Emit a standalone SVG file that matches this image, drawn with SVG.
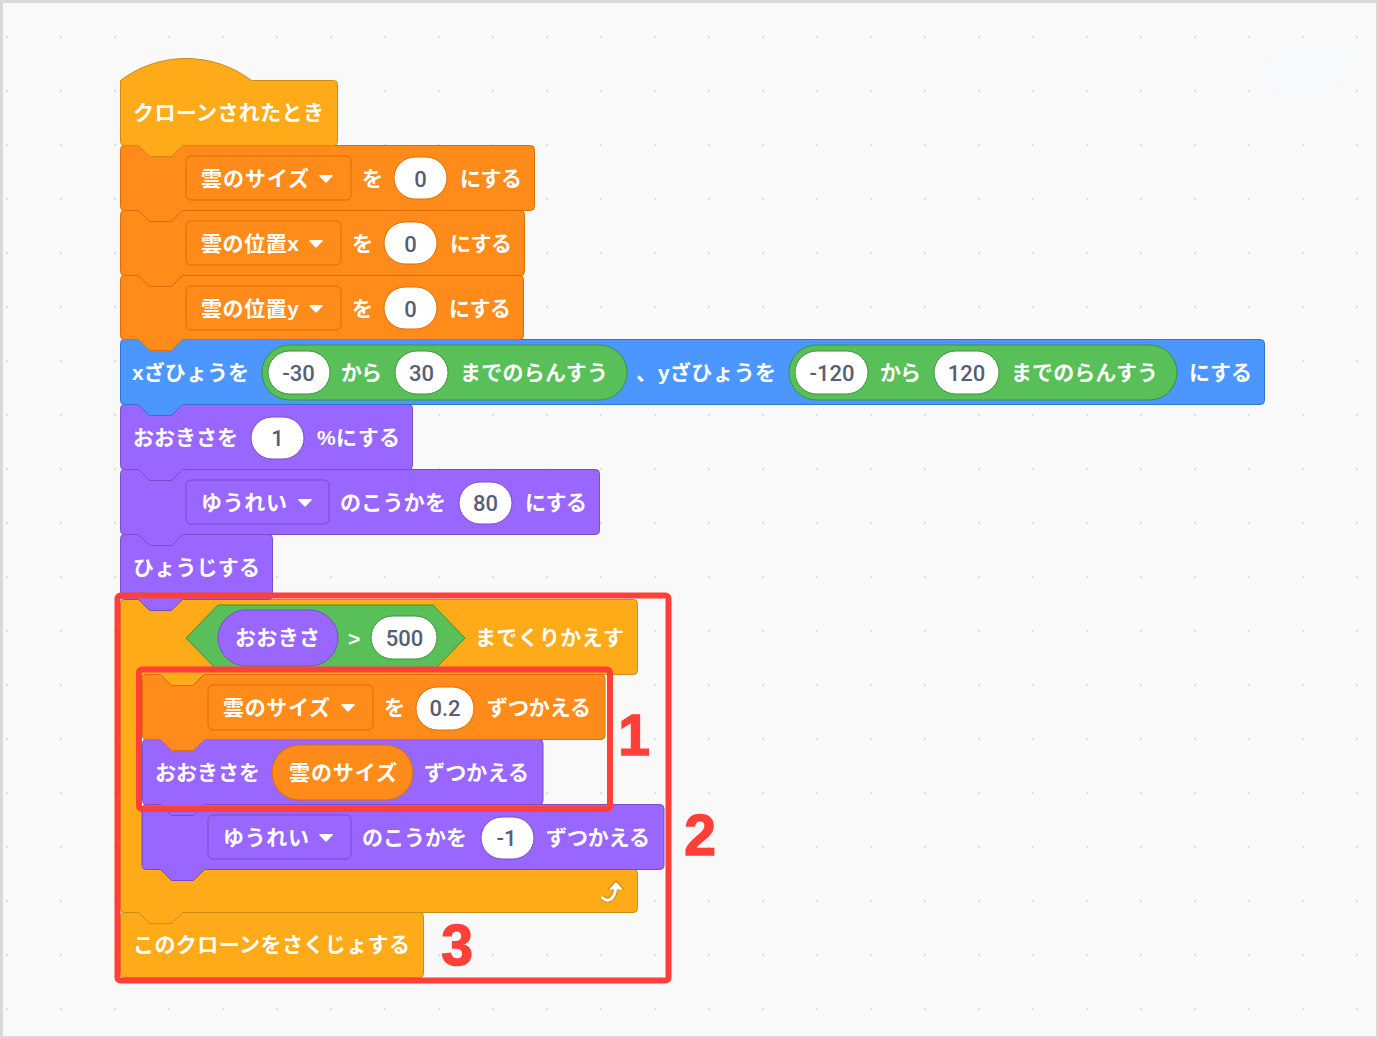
<svg xmlns="http://www.w3.org/2000/svg" xmlns:xlink="http://www.w3.org/1999/xlink" width="1378" height="1038" viewBox="0 0 1378 1038">
<style>
text{font-family:"Liberation Sans","Noto Sans CJK JP",sans-serif;font-size:21px;font-weight:700;fill:#fff}
.n{font-family:Roboto,"Liberation Sans",sans-serif;font-size:22px;font-weight:500;fill:#575e75;text-anchor:middle}
.b{stroke-width:1}
.or{fill:#ff8c1a;stroke:#db6e00}
.ye{fill:#ffab19;stroke:#cf8b17}
.bl{fill:#4c97ff;stroke:#3373cc}
.pu{fill:#9966ff;stroke:#774dcb}
.gr{fill:#59c059;stroke:#389438}
.in{fill:#fff}
.red{fill:none;stroke:#ff4038;stroke-width:6}
.num{font-family:"Liberation Sans",sans-serif;font-size:57px;font-weight:700;fill:#ff4038;stroke:#ff4038;stroke-width:1.500;text-anchor:middle}
</style>
<defs>
<pattern id="dots" width="54" height="54" patternUnits="userSpaceOnUse"><circle cx="7" cy="37" r="1.200" fill="#dedede"/></pattern>
<path id="tri" fill="#fff" d="M-6-4H6Q7.500-4 6.500-2.800L1 3Q0 4-1 3L-6.500-2.800Q-7.500-4-6-4Z"/>
</defs>
<rect width="1378" height="1038" fill="#d9d9d9"/>
<rect x="3" y="3" width="1373" height="1033" fill="#f9f9f9"/>
<rect x="3" y="3" width="1373" height="1033" fill="url(#dots)"/>
<path fill="#f8fbfc" d="M1266 72C1268 56 1282 50 1304 44C1318 38 1326 46 1340 43C1354 42 1358 58 1350 68C1342 74 1342 84 1326 90C1310 92 1300 96 1290 90C1274 92 1264 86 1266 72Z"/>

<g id="block-delete"><path class="b ye" transform="translate(120.500,912.500)" d="M0 4Q0 0 4 0H18L29 11H51L62 0H299Q303 0 303 4V61Q303 65 299 65H4Q0 65 0 61Z"/>
<text x="133" y="952" textLength="277">このクローンをさくじょする</text></g>

<g id="block-repeat"><path class="b ye" transform="translate(120.500,599.500)" d="M0 4Q0 0 4 0H18L29 11H51L62 0H513Q517 0 517 4V71Q517 75 513 75H83L72 86H50L39 75H25Q21 75 21 79V266Q21 270 25 270H513Q517 270 517 274V309Q517 313 513 313H62L51 324H29L18 313H4Q0 313 0 309Z"/>
<path class="b gr" d="M186 638L218 605H433L465 638L433 671H218Z"/>
<rect class="b pu" x="218" y="610" width="120" height="56" rx="28"/>
<text x="235" y="645" textLength="85">おおきさ</text>
<text x="348" y="646">&gt;</text>
<rect class="b in" stroke="#389438" x="371" y="616" width="66" height="43" rx="21.500"/>
<text class="n" x="404.500" y="645.500">500</text>
<text x="475" y="645" textLength="149">までくりかえす</text>
<path d="M601.500 897Q608 903 612 898Q615.500 894 615.500 888" fill="none" stroke="#cf8b17" stroke-width="5"/>
<path d="M616 880L625 890H607Z" fill="#cf8b17"/>
<path d="M601.500 897Q608 903 612 898Q615.500 894 615.500 888" fill="none" stroke="#fff" stroke-width="3"/>
<path d="M616 882L623 889.500H609Z" fill="#fff"/></g>

<g id="block-ghost-change"><path class="b pu" transform="translate(142.500,804.500)" d="M0 4Q0 0 4 0H18L29 11H51L62 0H517.500Q521.500 0 521.500 4V61Q521.500 65 517.500 65H62L51 76H29L18 65H4Q0 65 0 61Z"/>
<rect class="b pu" x="208" y="815" width="143" height="44" rx="5"/>
<text x="223" y="845" textLength="86">ゆうれい</text>
<use xlink:href="#tri" href="#tri" x="326" y="838"/>
<text x="362" y="845" textLength="105">のこうかを</text>
<rect class="b in" stroke="#774dcb" x="481" y="817" width="53" height="42" rx="21"/>
<text class="n" x="506.500" y="845.500">-1</text>
<text x="546" y="845" textLength="104">ずつかえる</text></g>

<g id="block-size-change"><path class="b pu" transform="translate(142.500,739.500)" d="M0 4Q0 0 4 0H18L29 11H51L62 0H396.500Q400.500 0 400.500 4V61Q400.500 65 396.500 65H62L51 76H29L18 65H4Q0 65 0 61Z"/>
<text x="155" y="780" textLength="105">おおきさを</text>
<rect class="b or" x="272" y="745" width="141" height="55" rx="27.500"/>
<text x="289" y="780" textLength="108">雲のサイズ</text>
<text x="424" y="780" textLength="105">ずつかえる</text></g>

<g id="block-cloud-change"><path class="b or" transform="translate(142.500,674.500)" d="M0 4Q0 0 4 0H18L29 11H51L62 0H458.500Q462.500 0 462.500 4V61Q462.500 65 458.500 65H62L51 76H29L18 65H4Q0 65 0 61Z"/>
<rect class="b or" x="208" y="685" width="165" height="45" rx="5"/>
<text x="223" y="715" textLength="107">雲のサイズ</text>
<use xlink:href="#tri" href="#tri" x="348" y="708"/>
<text x="384" y="715" textLength="20">を</text>
<rect class="b in" stroke="#db6e00" x="416" y="687" width="58" height="43" rx="21.500"/>
<text class="n" x="445" y="715.500">0.2</text>
<text x="487" y="715" textLength="104">ずつかえる</text></g>

<g id="block-show"><path class="b pu" transform="translate(120.500,534.500)" d="M0 4Q0 0 4 0H18L29 11H51L62 0H148Q152 0 152 4V61Q152 65 148 65H62L51 76H29L18 65H4Q0 65 0 61Z"/>
<text x="133" y="575" textLength="127">ひょうじする</text></g>

<g id="block-ghost-set"><path class="b pu" transform="translate(120.500,469.500)" d="M0 4Q0 0 4 0H18L29 11H51L62 0H475Q479 0 479 4V61Q479 65 475 65H62L51 76H29L18 65H4Q0 65 0 61Z"/>
<rect class="b pu" x="186" y="480" width="143" height="44" rx="5"/>
<text x="201" y="510" textLength="86">ゆうれい</text>
<use xlink:href="#tri" href="#tri" x="305" y="503"/>
<text x="340" y="510" textLength="106">のこうかを</text>
<rect class="b in" stroke="#774dcb" x="459" y="482" width="53" height="42" rx="21"/>
<text class="n" x="485.500" y="510.500">80</text>
<text x="525" y="510" textLength="62">にする</text></g>

<g id="block-size-set"><path class="b pu" transform="translate(120.500,404.500)" d="M0 4Q0 0 4 0H18L29 11H51L62 0H288Q292 0 292 4V61Q292 65 288 65H62L51 76H29L18 65H4Q0 65 0 61Z"/>
<text x="133" y="445" textLength="105">おおきさを</text>
<rect class="b in" stroke="#774dcb" x="251" y="417" width="53" height="42" rx="21"/>
<text class="n" x="277.500" y="445.500">1</text>
<text x="317" y="445" textLength="83">%にする</text></g>

<g id="block-goto"><path class="b bl" transform="translate(120.500,339.500)" d="M0 4Q0 0 4 0H18L29 11H51L62 0H1140Q1144 0 1144 4V61Q1144 65 1140 65H62L51 76H29L18 65H4Q0 65 0 61Z"/>
<text x="132" y="380" textLength="117">xざひょうを</text>
<rect class="b gr" x="262" y="345" width="365" height="55" rx="27.500"/>
<rect class="b in" stroke="#389438" x="268" y="351" width="62" height="43" rx="21.500"/>
<text class="n" x="298.500" y="380.500">-30</text>
<text x="341" y="380" textLength="41">から</text>
<rect class="b in" stroke="#389438" x="395" y="351" width="53" height="43" rx="21.500"/>
<text class="n" x="421.500" y="380.500">30</text>
<text x="460" y="380" textLength="148">までのらんすう</text>
<text x="636" y="380">、</text>
<text x="658" y="380" textLength="118">yざひょうを</text>
<rect class="b gr" x="789" y="345" width="388" height="55" rx="27.500"/>
<rect class="b in" stroke="#389438" x="795" y="351" width="73" height="43" rx="21.500"/>
<text class="n" x="832" y="380.500">-120</text>
<text x="880" y="380" textLength="41">から</text>
<rect class="b in" stroke="#389438" x="934" y="351" width="65" height="43" rx="21.500"/>
<text class="n" x="966.500" y="380.500">120</text>
<text x="1011" y="380" textLength="147">までのらんすう</text>
<text x="1189" y="380" textLength="63">にする</text></g>

<g id="block-cloud-y"><path class="b or" transform="translate(120.500,275.500)" d="M0 4Q0 0 4 0H18L29 11H51L62 0H399Q403 0 403 4V60Q403 64 399 64H62L51 75H29L18 64H4Q0 64 0 60Z"/>
<rect class="b or" x="186" y="286" width="155" height="44" rx="5"/>
<text x="201" y="316" textLength="98">雲の位置y</text>
<use xlink:href="#tri" href="#tri" x="316" y="309"/>
<text x="352" y="316" textLength="20">を</text>
<rect class="b in" stroke="#db6e00" x="384" y="287" width="53" height="42" rx="21"/>
<text class="n" x="410.500" y="316.500">0</text>
<text x="449" y="316" textLength="62">にする</text></g>

<g id="block-cloud-x"><path class="b or" transform="translate(120.500,210.500)" d="M0 4Q0 0 4 0H18L29 11H51L62 0H400Q404 0 404 4V61Q404 65 400 65H62L51 76H29L18 65H4Q0 65 0 61Z"/>
<rect class="b or" x="186" y="221" width="155" height="44" rx="5"/>
<text x="201" y="251" textLength="98">雲の位置x</text>
<use xlink:href="#tri" href="#tri" x="316" y="244"/>
<text x="352" y="251" textLength="20">を</text>
<rect class="b in" stroke="#db6e00" x="384" y="222" width="53" height="42" rx="21"/>
<text class="n" x="410.500" y="251.500">0</text>
<text x="450" y="251" textLength="62">にする</text></g>

<g id="block-cloud-size"><path class="b or" transform="translate(120.500,145.500)" d="M0 4Q0 0 4 0H18L29 11H51L62 0H410Q414 0 414 4V61Q414 65 410 65H62L51 76H29L18 65H4Q0 65 0 61Z"/>
<rect class="b or" x="186" y="156" width="165" height="44" rx="5"/>
<text x="201" y="186" textLength="108">雲のサイズ</text>
<use xlink:href="#tri" href="#tri" x="326" y="179"/>
<text x="362" y="186" textLength="20">を</text>
<rect class="b in" stroke="#db6e00" x="394" y="157" width="53" height="42" rx="21"/>
<text class="n" x="420.500" y="186.500">0</text>
<text x="460" y="186" textLength="62">にする</text></g>

<g id="block-hat"><path class="b ye" transform="translate(120.500,58.500)" d="M0 22C18 8 42 0 65 0C90 0 113 8 131 22H213Q217 22 217 26V83Q217 87 213 87H62L51 98H29L18 87H4Q0 87 0 83Z"/>
<text x="133" y="120" textLength="191">クローンされたとき</text></g>

<g id="highlight-2"><rect class="red" x="117.500" y="595.500" width="551" height="385" rx="3"/><text class="num" x="700" y="855">2</text></g>
<g id="highlight-1"><rect class="red" x="139" y="669.500" width="471" height="139.500" rx="3"/><text class="num" x="634" y="755">1</text></g>
<g id="highlight-3"><text class="num" x="457" y="965">3</text></g>
</svg>
